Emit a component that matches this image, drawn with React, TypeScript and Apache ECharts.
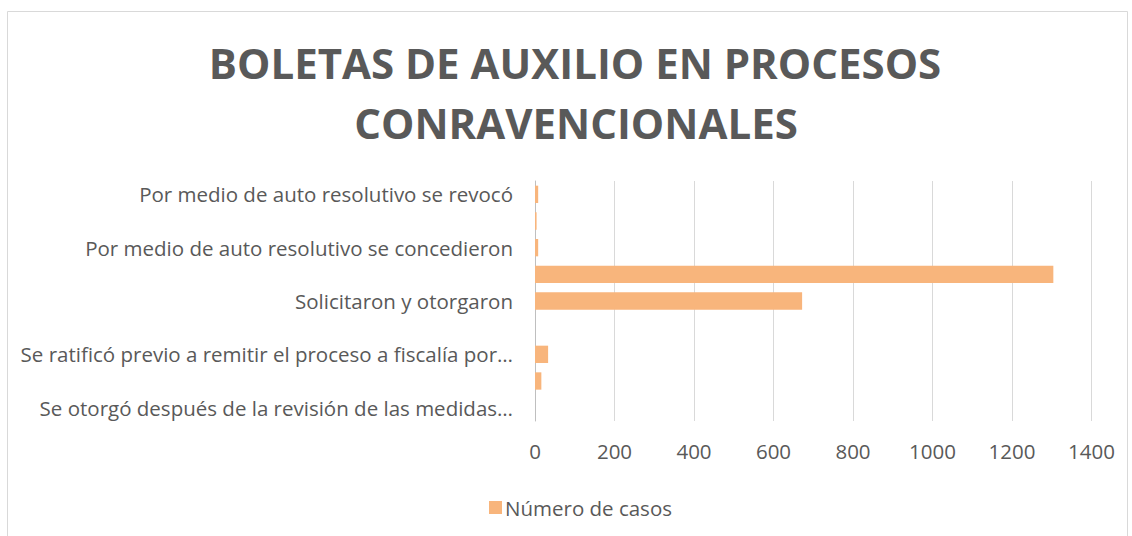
import React, { useEffect, useRef } from "react";
import * as echarts from "echarts";

const titleLines = ["BOLETAS DE AUXILIO EN PROCESOS", "CONRAVENCIONALES"];
const seriesName = "Número de casos";
// bottom to top
const categories = [
  "Se otorgó después de la revisión de las medidas…",
  "Se otorgó en audiencia",
  "Se ratificó previo a remitir el proceso a fiscalía por…",
  "Se denegaron",
  "Solicitaron y otorgaron",
  "Solicitaron",
  "Por medio de auto resolutivo se concedieron",
  "Por medio de auto resolutivo se modificó",
  "Por medio de auto resolutivo se revocó",
];
const values = [0, 16, 33, 0, 672, 1304, 8, 4, 8];
const xTicks = { min: 0, max: 1400, interval: 200 };

const FONT = "'Open Sans', sans-serif";
const TEXT = "#595959";
const BAR = "#F8B57C";

export default function App() {
  const ref = useRef<HTMLDivElement>(null);
  useEffect(() => {
    if (!ref.current) return;
    const chart = echarts.init(ref.current, undefined, { renderer: "svg" });
    chart.setOption({
      animation: false,
      textStyle: { fontFamily: FONT },
      graphic: [
        {
          type: "rect",
          shape: { x: 7.5, y: 11.5, width: 1120, height: 540 },
          style: { fill: "none", stroke: "#d9d9d9", lineWidth: 1 },
          silent: true,
        },
        {
          type: "text",
          x: 575,
          y: 62,
          style: {
            text: titleLines[0],
            fontFamily: FONT,
            fontWeight: "bold",
            fontSize: 42,
            fill: TEXT,
            align: "center",
            verticalAlign: "middle",
          },
        },
        {
          type: "text",
          x: 576,
          y: 122,
          style: {
            text: titleLines[1],
            fontFamily: FONT,
            fontWeight: "bold",
            fontSize: 42,
            fill: TEXT,
            align: "center",
            verticalAlign: "middle",
          },
        },
      ],
      legend: {
        data: [seriesName],
        left: 484,
        top: 492,
        itemWidth: 13,
        itemHeight: 13,
        itemGap: 4,
        icon: "rect",
        textStyle: { color: TEXT, fontSize: 20.5, fontFamily: FONT, padding: [0, 0, 0, -2] },
      },
      grid: { left: 535, right: 40.5, top: 181, bottom: 115, containLabel: false },
      xAxis: {
        type: "value",
        min: xTicks.min,
        max: xTicks.max,
        interval: xTicks.interval,
        axisLine: { show: false },
        axisTick: { show: false },
        splitLine: { lineStyle: { color: "#d9d9d9", width: 1 } },
        axisLabel: {
          color: TEXT,
          fontSize: 20.5,
          fontFamily: FONT,
          margin: 19,
          formatter: (v: number) => String(v),
        },
      },
      yAxis: {
        type: "category",
        data: categories,
        axisLine: { show: true, lineStyle: { color: "#bfbfbf", width: 1 } },
        axisTick: { show: false },
        axisLabel: { interval: 1, color: TEXT, fontSize: 20.5, fontFamily: FONT, margin: 22 },
      },
      series: [
        {
          name: seriesName,
          type: "bar",
          data: values,
          barCategoryGap: "35%",
          itemStyle: { color: BAR },
        },
      ],
    });
    return () => chart.dispose();
  }, []);
  return (
    <div
      ref={ref}
      style={{ position: "fixed", left: 0, top: 0, width: 1132, height: 536, background: "#fff" }}
    />
  );
}
